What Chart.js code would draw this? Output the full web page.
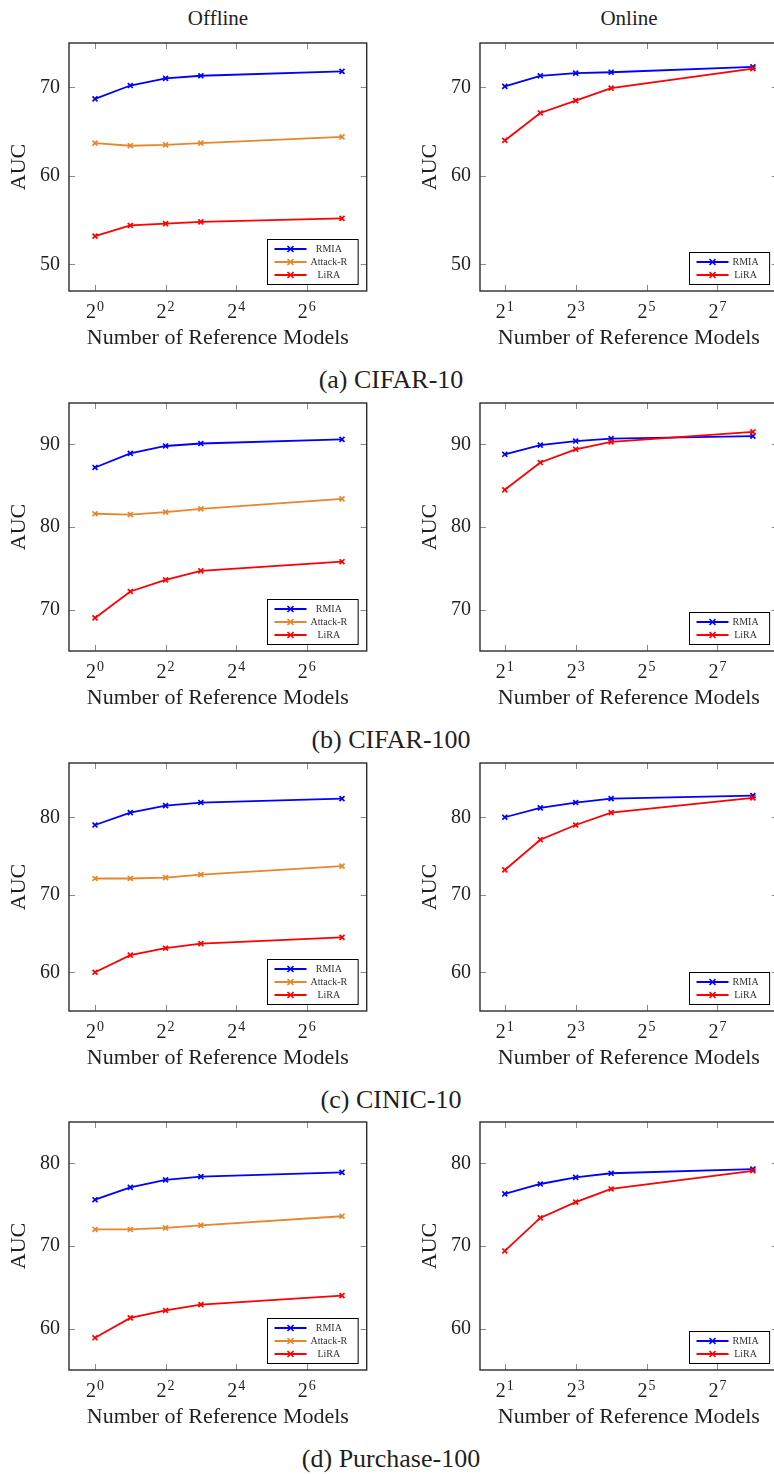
<!DOCTYPE html>
<html>
<head>
<meta charset="utf-8">
<script src="https://cdn.jsdelivr.net/npm/chart.js@4.4.0/dist/chart.umd.min.js"></script>
<style>
body { margin: 0; width: 774px; height: 1474px; overflow: hidden; position: relative; background: #fff; font-family: "Liberation Serif", "Times New Roman", serif; color: #1f1f1f; }
canvas { position: absolute; }
.lbl { position: absolute; text-align: center; white-space: nowrap; }
</style>
</head>
<body>
<script>
// AUC vs number of reference models, offline / online attacks

const FONT = '"Liberation Serif", "Times New Roman", serif';
const INK = '#1f1f1f';

const captions = ['(a) CIFAR-10', '(b) CIFAR-100', '(c) CINIC-10', '(d) Purchase-100'];

const offlineRefs = [1, 2, 4, 8, 128];
const onlineRefs = [2, 4, 8, 16, 256];
const offlineXTicks = [1, 4, 16, 64];
const onlineXTicks = [2, 8, 32, 128];

const yTicks = [[50, 60, 70], [70, 80, 90], [60, 70, 80], [60, 70, 80]];
const yMin = [47, 65, 55, 55];
const yMax = [75, 95, 87, 85];

// offline
const offRmia = [
    [68.7, 70.2, 71.0, 71.3, 71.8],
    [87.2, 88.9, 89.8, 90.1, 90.6],
    [79.0, 80.6, 81.5, 81.9, 82.4],
    [75.6, 77.1, 78.0, 78.4, 78.9]
];
const offAttackR = [
    [63.7, 63.4, 63.5, 63.7, 64.4],
    [81.6, 81.5, 81.8, 82.2, 83.4],
    [72.1, 72.1, 72.2, 72.6, 73.7],
    [72.0, 72.0, 72.2, 72.5, 73.6]
];
const offLira = [
    [53.2, 54.4, 54.6, 54.8, 55.2],
    [69.0, 72.2, 73.6, 74.7, 75.8],
    [60.0, 62.2, 63.1, 63.7, 64.5],
    [58.9, 61.3, 62.2, 62.9, 64.0]
];

// online
const onRmia = [
    [70.1, 71.3, 71.6, 71.7, 72.3],
    [88.8, 89.9, 90.4, 90.7, 91.0],
    [80.0, 81.2, 81.9, 82.4, 82.8],
    [76.3, 77.5, 78.3, 78.8, 79.3]
];
const onLira = [
    [64.0, 67.1, 68.5, 69.9, 72.1],
    [84.5, 87.8, 89.4, 90.3, 91.5],
    [73.2, 77.1, 79.0, 80.6, 82.5],
    [69.4, 73.4, 75.3, 76.9, 79.1]
];

const colors = { 'RMIA': '#0000ff', 'Attack-R': '#e8862a', 'LiRA': '#ff0000' };
const drawOrder = { 'RMIA': 2, 'Attack-R': 1, 'LiRA': 0 };

const plotTops = [43, 403, 763, 1122];
const PLOT_H = 248, PAD_TOP = 30, XAXIS_H = 60, CANVAS_W = 387;

function drawCross(ctx, cx, cy, r, color) {
    ctx.strokeStyle = color;
    ctx.lineWidth = 1.6;
    ctx.beginPath();
    ctx.moveTo(cx - r, cy - r); ctx.lineTo(cx + r, cy + r);
    ctx.moveTo(cx - r, cy + r); ctx.lineTo(cx + r, cy - r);
    ctx.stroke();
}

// pgfplots style box: inner ticks on all four sides, 2^n tick labels, frame and legend
const pgfAxes = {
    id: 'pgfAxes',
    afterDatasetsDraw(chart) {
        const { ctx, chartArea: a, scales: { x, y } } = chart;
        ctx.save();
        ctx.strokeStyle = '#8a8a8a';
        ctx.lineWidth = 1;
        ctx.beginPath();
        x.ticks.forEach(t => {
            const px = Math.round(x.getPixelForValue(t.value)) + 0.5;
            ctx.moveTo(px, a.bottom); ctx.lineTo(px, a.bottom - 6);
            ctx.moveTo(px, a.top); ctx.lineTo(px, a.top + 6);
        });
        y.ticks.forEach(t => {
            const py = Math.round(y.getPixelForValue(t.value)) + 0.5;
            ctx.moveTo(a.left, py); ctx.lineTo(a.left + 6, py);
            ctx.moveTo(a.right, py); ctx.lineTo(a.right - 6, py);
        });
        ctx.stroke();

        ctx.strokeStyle = '#2b2b2b';
        ctx.lineWidth = 1.4;
        ctx.strokeRect(a.left, a.top, a.right - a.left, a.bottom - a.top);

        // x tick labels as 2 with a raised exponent
        ctx.fillStyle = INK;
        ctx.textAlign = 'left';
        ctx.textBaseline = 'alphabetic';
        x.ticks.forEach(t => {
            const px = x.getPixelForValue(t.value);
            const e = String(Math.round(Math.log2(t.value)));
            ctx.font = '20px ' + FONT;
            const w1 = ctx.measureText('2').width;
            ctx.font = '14px ' + FONT;
            const w2 = ctx.measureText(e).width;
            const x0 = px - (w1 + 1 + w2) / 2;
            ctx.font = '20px ' + FONT;
            ctx.fillText('2', x0, a.bottom + 26.5);
            ctx.font = '14px ' + FONT;
            ctx.fillText(e, x0 + w1 + 1, a.bottom + 19.5);
        });

        const sets = chart.data.datasets;
        ctx.font = '10px ' + FONT;
        const textW = Math.max(...sets.map(d => ctx.measureText(d.label).width));
        const w = 7 + 32 + 4 + textW + 11;
        const h = 19 + 13 * (sets.length - 1);
        const bx = Math.round(a.right - 9 - w) + 0.5;
        const by = Math.round(a.bottom - 7.5 - h) + 0.5;
        ctx.fillStyle = '#fff';
        ctx.fillRect(bx, by, w, h);
        ctx.strokeStyle = '#000';
        ctx.lineWidth = 1;
        ctx.strokeRect(bx, by, w, h);
        sets.forEach((d, i) => {
            const ly = by + 9.5 + 13 * i;
            ctx.strokeStyle = d.borderColor;
            ctx.lineWidth = 1.8;
            ctx.beginPath();
            ctx.moveTo(bx + 7, ly); ctx.lineTo(bx + 39, ly);
            ctx.stroke();
            drawCross(ctx, bx + 23, ly, 3, d.borderColor);
            ctx.fillStyle = '#333';
            ctx.textAlign = 'center';
            ctx.textBaseline = 'middle';
            ctx.fillText(d.label, bx + 43 + textW / 2, ly + 0.5);
        });
        ctx.restore();
    }
};

function series(label, xs, ys) {
    return {
        label: label,
        data: xs.map((v, i) => ({ x: v, y: ys[i] })),
        borderColor: colors[label],
        backgroundColor: colors[label],
        borderWidth: 1.8,
        pointStyle: 'crossRot',
        pointRadius: 3.5,
        pointBorderWidth: 1.7,
        tension: 0,
        order: drawOrder[label]
    };
}

function addLabel(text, cx, top, size) {
    const d = document.createElement('div');
    d.className = 'lbl';
    d.textContent = text;
    d.style.left = (cx - 150) + 'px';
    d.style.width = '300px';
    d.style.top = top + 'px';
    d.style.fontSize = size + 'px';
    d.style.lineHeight = size + 'px';
    document.body.appendChild(d);
}

function makePanel(row, online) {
    const c = document.createElement('canvas');
    c.width = CANVAS_W;
    c.height = PAD_TOP + PLOT_H + XAXIS_H;
    c.style.left = (online ? 411 : 0) + 'px';
    c.style.top = (plotTops[row] - PAD_TOP) + 'px';
    document.body.appendChild(c);

    const refs = online ? onlineRefs : offlineRefs;
    const xt = online ? onlineXTicks : offlineXTicks;
    const datasets = online
        ? [series('RMIA', refs, onRmia[row]), series('LiRA', refs, onLira[row])]
        : [series('RMIA', refs, offRmia[row]), series('Attack-R', refs, offAttackR[row]), series('LiRA', refs, offLira[row])];

    new Chart(c, {
        type: 'line',
        data: { datasets: datasets },
        options: {
            responsive: false,
            animation: false,
            devicePixelRatio: 1,
            layout: { padding: { top: PAD_TOP, right: 20.3, bottom: 0, left: 0 } },
            plugins: { legend: { display: false }, tooltip: { enabled: false } },
            scales: {
                x: {
                    type: 'logarithmic',
                    min: Math.pow(2, online ? 0.3 : -0.7),
                    max: Math.pow(2, online ? 8.7 : 7.7),
                    afterBuildTicks: s => { s.ticks = xt.map(v => ({ value: v })); },
                    afterFit: s => { s.height = XAXIS_H; },
                    grid: { display: false, drawTicks: false },
                    border: { display: false },
                    ticks: { display: false },
                    title: {
                        display: true,
                        text: 'Number of Reference Models',
                        color: INK,
                        padding: 0,
                        font: { family: FONT, size: 22 }
                    }
                },
                y: {
                    min: yMin[row],
                    max: yMax[row],
                    afterBuildTicks: s => { s.ticks = yTicks[row].map(v => ({ value: v })); },
                    afterFit: s => { s.width = 69; },
                    grid: { display: false, drawTicks: false },
                    border: { display: false },
                    ticks: {
                        padding: 9,
                        color: INK,
                        font: { family: FONT, size: 20 }
                    },
                    title: {
                        display: true,
                        text: 'AUC',
                        color: INK,
                        padding: { top: 6.3, bottom: 0 },
                        font: { family: FONT, size: 22 }
                    }
                }
            }
        },
        plugins: [pgfAxes]
    });
}

addLabel('Offline', 218, 8, 21);
addLabel('Online', 629, 8, 21);

for (let r = 0; r < 4; r++) {
    makePanel(r, false);
    makePanel(r, true);
    addLabel(captions[r], 391, plotTops[r] + PLOT_H + 98 - 22, 26);
}
</script>
</body>
</html>
